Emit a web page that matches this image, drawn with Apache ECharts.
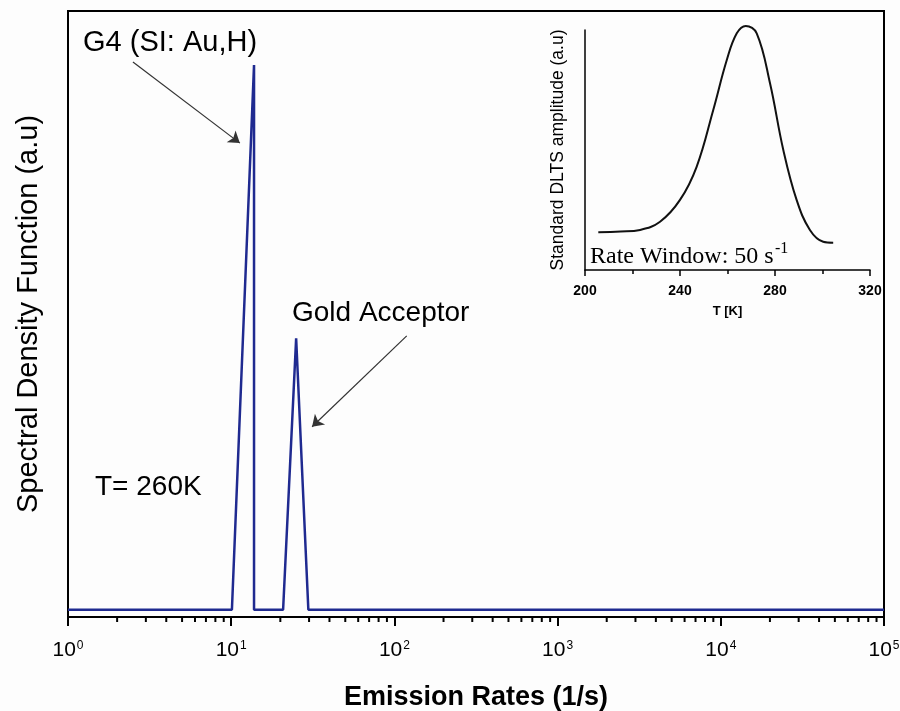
<!DOCTYPE html>
<html>
<head>
<meta charset="utf-8">
<script src="https://cdn.jsdelivr.net/npm/echarts@6/dist/echarts.min.js"></script>
<style>
  html, body { margin: 0; padding: 0; background: #fdfdfd; }
  #chart { width: 900px; height: 711px; }
</style>
</head>
<body>
<div id="chart"></div>
<script>
// main spectrum (Laplace DLTS), log x
const rates = [1, 10.1, 13.8, 13.8, 20.8, 25.0, 29.7, 100000];
const density = [1.2, 1.2, 91.1, 1.2, 1.2, 46.0, 1.2, 1.2];

// inset: standard DLTS peak
const temps = [205.6, 215, 223.2, 231.6, 240, 247, 254, 259.7, 263.9, 267.7, 272.3, 277.9, 283.5, 289.1, 294.7, 300.3, 304.5];
const amplitude = [15.7, 16.0, 16.7, 20.1, 29.2, 43.0, 66.7, 87.5, 98.6, 101.7, 98.6, 77.8, 50.0, 29.2, 16.7, 11.8, 11.4];

// minor ticks of the log axis (2..9 in each decade)
const minorTicks = [];
for (let k = 0; k < 5; k++) {
  for (let m = 2; m <= 9; m++) minorTicks.push([m * Math.pow(10, k), 0]);
}

const chart = echarts.init(document.getElementById('chart'));

const option = {
  backgroundColor: '#fdfdfd',
  animation: false,
  grid: [
    { left: 68, right: 16, top: 11, bottom: 94, outerBoundsMode: 'none', show: true, borderColor: '#000', borderWidth: 2, backgroundColor: 'transparent' },
    { left: 585, right: 30, top: 30, bottom: 441, outerBoundsMode: 'none' }
  ],
  xAxis: [
    {
      gridIndex: 0, type: 'log', logBase: 10, min: 1, max: 100000,
      name: 'Emission Rates (1/s)', nameLocation: 'middle', nameGap: 67,
      nameTextStyle: { fontFamily: 'Arial, Liberation Sans', fontWeight: 'bold', fontSize: 27, color: '#000' },
      axisLine: { lineStyle: { color: '#000', width: 2 } },
      axisTick: { inside: false, length: 9, lineStyle: { color: '#000', width: 2 } },
      splitLine: { show: false },
      axisLabel: {
        margin: 23,
        formatter: function (v) {
          const e = Math.round(Math.log10(v));
          return '{b|10}{s|' + e + '}';
        },
        rich: {
          b: { fontFamily: 'Arial, Liberation Sans', fontSize: 21, color: '#000' },
          s: { fontFamily: 'Arial, Liberation Sans', fontSize: 12, color: '#000', verticalAlign: 'top', padding: [0, 0, 0, 1] }
        }
      }
    },
    {
      gridIndex: 1, type: 'value', min: 200, max: 320, interval: 40,
      name: 'T [K]', nameLocation: 'middle', nameGap: 35,
      nameTextStyle: { fontFamily: 'Arial, Liberation Sans', fontWeight: 'bold', fontSize: 13, color: '#000' },
      axisLine: { lineStyle: { color: '#000', width: 1.5 } },
      axisTick: { length: 6, lineStyle: { color: '#000', width: 1.5 } },
      minorTick: { show: true, splitNumber: 2, length: 4, lineStyle: { color: '#000', width: 1.5 } },
      splitLine: { show: false },
      axisLabel: { margin: 14, fontFamily: 'Arial, Liberation Sans', fontWeight: 'bold', fontSize: 14, color: '#000' }
    }
  ],
  yAxis: [
    {
      gridIndex: 0, type: 'value', min: 0, max: 100,
      name: 'Spectral Density Function (a.u)', nameLocation: 'middle', nameGap: 25,
      nameTextStyle: { fontFamily: 'Arial, Liberation Sans', fontSize: 29, color: '#000' },
      axisLine: { show: true, lineStyle: { color: '#000', width: 2 } },
      axisTick: { show: false }, axisLabel: { show: false }, splitLine: { show: false }
    },
    {
      gridIndex: 1, type: 'value', min: 0, max: 100,
      name: 'Standard DLTS amplitude (a.u)', nameLocation: 'middle', nameGap: 18,
      nameTextStyle: { fontFamily: 'Arial, Liberation Sans', fontSize: 17.5, color: '#000' },
      axisLine: { show: true, lineStyle: { color: '#000', width: 1.5 } },
      axisTick: { show: false }, axisLabel: { show: false }, splitLine: { show: false }
    }
  ],
  series: [
    {
      type: 'line', xAxisIndex: 0, yAxisIndex: 0,
      data: rates.map((r, i) => [r, density[i]]),
      showSymbol: false, symbol: 'none',
      lineStyle: { color: '#1f2a90', width: 2.5 },
      markLine: {
        silent: true, symbol: ['none', 'arrow'], symbolSize: 11,
        lineStyle: { color: '#333', width: 1.2, type: 'solid' },
        label: { show: false },
        data: [
          [{ coord: [2.5, 91.6] }, { coord: [11.3, 78.2] }],
          [{ coord: [119, 46.4] }, { coord: [31.3, 31.4] }]
        ]
      }
    },
    {
      type: 'custom', xAxisIndex: 0, yAxisIndex: 0, clip: false, silent: true,
      data: minorTicks,
      renderItem: function (params, api) {
        const p = api.coord([api.value(0), 0]);
        return {
          type: 'line',
          shape: { x1: p[0], y1: p[1], x2: p[0], y2: p[1] + 5 },
          style: { stroke: '#000', lineWidth: 2 }
        };
      }
    },
    {
      type: 'line', xAxisIndex: 1, yAxisIndex: 1,
      data: temps.map((t, i) => [t, amplitude[i]]),
      smooth: 0.4, showSymbol: false, symbol: 'none', clip: false,
      lineStyle: { color: '#111', width: 2 }
    }
  ],
  graphic: [
    { type: 'text', x: 83, y: 43, style: { text: 'G4 (SI: Au,H)', font: '29px Arial, "Liberation Sans"', fill: '#000', verticalAlign: 'middle' } },
    { type: 'text', x: 292, y: 313, style: { text: 'Gold Acceptor', font: '28px Arial, "Liberation Sans"', fill: '#000', verticalAlign: 'middle' } },
    { type: 'text', x: 95, y: 487, style: { text: 'T= 260K', font: '28px Arial, "Liberation Sans"', fill: '#000', verticalAlign: 'middle' } },
    { type: 'text', x: 590, y: 257, style: { text: 'Rate Window: 50 s', font: '24px "Liberation Serif", "Times New Roman"', fill: '#000', verticalAlign: 'middle' } },
    { type: 'text', x: 775, y: 249, style: { text: '-1', font: '16px "Liberation Serif", "Times New Roman"', fill: '#000', verticalAlign: 'middle' } }
  ]
};

chart.setOption(option);
</script>
</body>
</html>
